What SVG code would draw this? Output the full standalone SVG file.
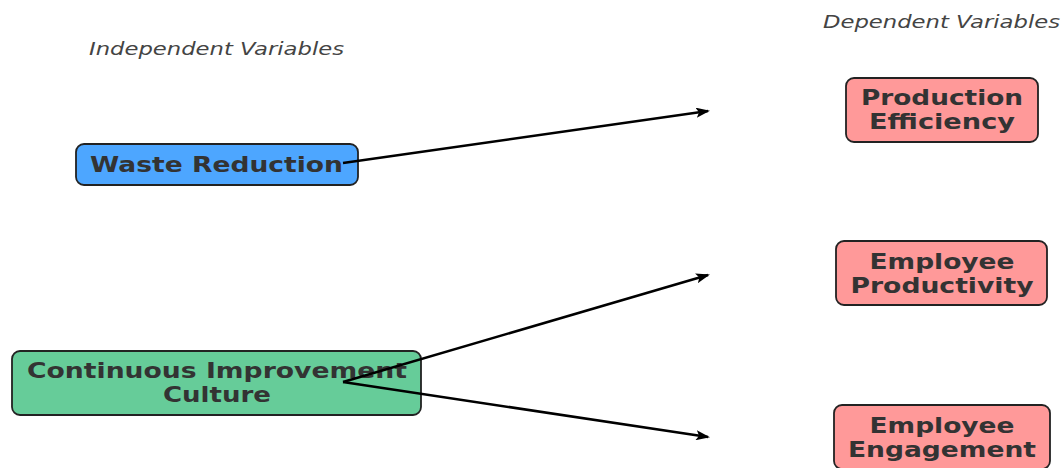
<svg xmlns="http://www.w3.org/2000/svg" width="1063" height="468" viewBox="0 0 1063 468">
<style>
.box{stroke:#222;stroke-width:1.8}
.t{font-family:"DejaVu Sans",sans-serif;font-weight:bold;font-size:20.5px;fill:#333;text-anchor:middle}
.lbl{font-family:"DejaVu Sans",sans-serif;font-style:italic;font-size:17px;fill:#444;text-anchor:middle}
.edge{stroke:#000;stroke-width:2.5;fill:none;marker-end:url(#ah)}
</style>
<defs>
<marker id="ah" markerWidth="14" markerHeight="10" refX="12" refY="5" orient="auto" markerUnits="userSpaceOnUse">
<path d="M0,0 L14,5 L0,10 L3,5 Z" fill="#000"/>
</marker>
</defs>
<rect width="1063" height="468" fill="#fff"/>
<text class="lbl" x="216.5" y="55" textLength="255" lengthAdjust="spacingAndGlyphs">Independent Variables</text>
<text class="lbl" x="941.5" y="28" textLength="237" lengthAdjust="spacingAndGlyphs">Dependent Variables</text>
<g id="n-waste">
<rect class="box" x="76" y="144" width="282" height="41" rx="8" fill="#4da6ff"/>
<text class="t" x="216.5" y="171.5" textLength="253" lengthAdjust="spacingAndGlyphs">Waste Reduction</text>
</g>
<g id="n-cic">
<rect class="box" x="12" y="351" width="409" height="64" rx="8" fill="#66cc99"/>
<text class="t" x="217" y="377.5" textLength="380" lengthAdjust="spacingAndGlyphs">Continuous Improvement</text>
<text class="t" x="217" y="401.5" textLength="108" lengthAdjust="spacingAndGlyphs">Culture</text>
</g>
<g id="n-pe">
<rect class="box" x="846" y="78" width="192" height="64" rx="8" fill="#ff9999"/>
<text class="t" x="942" y="104.5" textLength="162" lengthAdjust="spacingAndGlyphs">Production</text>
<text class="t" x="942" y="128.5" textLength="146" lengthAdjust="spacingAndGlyphs">Efficiency</text>
</g>
<g id="n-ep">
<rect class="box" x="836" y="241" width="211" height="64" rx="8" fill="#ff9999"/>
<text class="t" x="942" y="268.5" textLength="145" lengthAdjust="spacingAndGlyphs">Employee</text>
<text class="t" x="942" y="292.5" textLength="183" lengthAdjust="spacingAndGlyphs">Productivity</text>
</g>
<g id="n-ee">
<rect class="box" x="834" y="405" width="216" height="64" rx="8" fill="#ff9999"/>
<text class="t" x="942" y="432.5" textLength="145" lengthAdjust="spacingAndGlyphs">Employee</text>
<text class="t" x="942" y="456.5" textLength="188" lengthAdjust="spacingAndGlyphs">Engagement</text>
</g>
<g id="connectors">
<line class="edge" x1="343" y1="163" x2="708" y2="111"/>
<line class="edge" x1="343" y1="382" x2="708" y2="275"/>
<line class="edge" x1="343" y1="382" x2="708" y2="437"/>
</g>
</svg>
